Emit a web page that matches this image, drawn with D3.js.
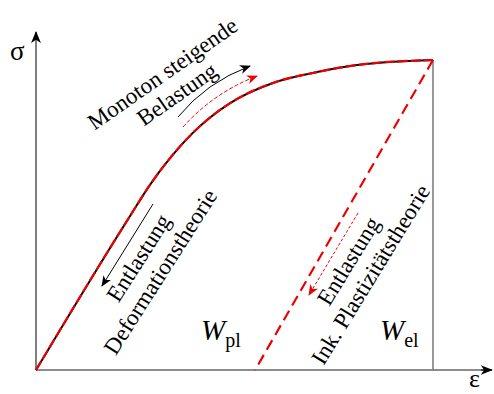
<!DOCTYPE html>
<html>
<head>
<meta charset="utf-8">
<script src="https://cdn.jsdelivr.net/npm/d3@7"></script>
<style>
  body { margin: 0; background: #fff; }
  text { font-family: "Liberation Serif", serif; fill: #000; }
</style>
</head>
<body>
<script>
// Spannungs-Dehnungs-Kurve (normiert auf den Endpunkt)
let strain = [0, 0.237, 0.287, 0.338, 0.395, 0.489, 0.597, 0.708, 0.809, 1];
let stress = [0, 0.497, 0.597, 0.684, 0.765, 0.861, 0.926, 0.961, 0.984, 1];
// Entlastungsgerade (inkrementelle Plastizitätstheorie)
let unloadStrain = [1, 0.552];
let unloadStress = [1, 0];

let width = 494, height = 394;

let svg = d3.select('body').append('svg')
  .attr('width', width)
  .attr('height', height);

let x = d3.scaleLinear().domain([0, 1]).range([36, 433]);
let y = d3.scaleLinear().domain([0, 1]).range([370, 60]);

//---------- Pfeilspitzen -----------
let defs = svg.append('defs');
function marker(id, color, size) {
  defs.append('marker')
    .attr('id', id)
    .attr('viewBox', '-10 -5 12 10')
    .attr('refX', 0).attr('refY', 0)
    .attr('markerUnits', 'userSpaceOnUse')
    .attr('markerWidth', size * 1.2).attr('markerHeight', size)
    .attr('orient', 'auto')
    .append('path')
    .attr('d', 'M-10,-4.5 L1,0 L-10,4.5 L-7,0 Z')
    .attr('fill', color);
}
marker('arrK', '#000', 10);
marker('arrR', '#e00', 10);
marker('axis', '#000', 11);

//---------- Achsen -----------
svg.append('line')
  .attr('x1', x(0)).attr('y1', y(0))
  .attr('x2', x(1.12)).attr('y2', y(0))
  .attr('stroke', '#666').attr('stroke-width', 1.5);
svg.append('line')
  .attr('x1', x(1.12)).attr('y1', y(0))
  .attr('x2', x(1.148)).attr('y2', y(0))
  .attr('stroke', '#000').attr('stroke-width', 1.5)
  .attr('marker-end', 'url(#axis)');
svg.append('line')
  .attr('x1', x(0)).attr('y1', y(0))
  .attr('x2', x(0)).attr('y2', y(1.09))
  .attr('stroke', '#555').attr('stroke-width', 1.5)
  .attr('marker-end', 'url(#axis)');

// senkrechte Linie am Endpunkt
svg.append('line')
  .attr('x1', x(1)).attr('y1', y(0))
  .attr('x2', x(1)).attr('y2', y(1))
  .attr('stroke', '#777').attr('stroke-width', 1.5);

svg.append('text').attr('x', 10).attr('y', 60)
  .style('font-size', '27px').text('σ');
svg.append('text').attr('x', 469).attr('y', 387)
  .style('font-size', '26px').text('ε');

//---------- Kurven -----------
let pts = strain.map((s, i) => [s, stress[i]]);
let line = d3.line()
  .x(d => x(d[0]))
  .y(d => y(d[1]))
  .curve(d3.curveMonotoneX);

svg.append('path').attr('d', line(pts))
  .attr('fill', 'none').attr('stroke', '#000').attr('stroke-width', 2);
svg.append('path').attr('d', line(pts))
  .attr('fill', 'none').attr('stroke', '#e00').attr('stroke-width', 2.2)
  .attr('stroke-dasharray', '10,3');

let unload = unloadStrain.map((s, i) => [s, unloadStress[i]]);
svg.append('path').attr('d', d3.line().x(d => x(d[0])).y(d => y(d[1]))(unload))
  .attr('fill', 'none').attr('stroke', '#e00').attr('stroke-width', 2.2)
  .attr('stroke-dasharray', '11,6');

//---------- Richtungspfeile -----------
svg.append('path').attr('d', 'M178,117 Q206,82.5 250,66')
  .attr('fill', 'none').attr('stroke', '#000').attr('stroke-width', 1)
  .attr('marker-end', 'url(#arrK)');
svg.append('path').attr('d', 'M183,127 Q214,92.5 257,76')
  .attr('fill', 'none').attr('stroke', '#e00').attr('stroke-width', 1)
  .attr('stroke-dasharray', '4,2')
  .attr('marker-end', 'url(#arrR)');
svg.append('path').attr('d', 'M153,204 L102,286')
  .attr('fill', 'none').attr('stroke', '#000').attr('stroke-width', 1)
  .attr('marker-end', 'url(#arrK)');
svg.append('path').attr('d', 'M358,213 L309,295')
  .attr('fill', 'none').attr('stroke', '#e00').attr('stroke-width', 1)
  .attr('stroke-dasharray', '3,2')
  .attr('marker-end', 'url(#arrR)');

//---------- Beschriftung -----------
function label(lines, cx, cy, angle, gap) {
  let g = svg.append('g')
    .attr('transform', `translate(${cx},${cy}) rotate(${angle})`);
  lines.forEach((t, i) => {
    g.append('text')
      .attr('x', t[1]).attr('y', i * gap)
      .attr('text-anchor', 'middle')
      .style('font-size', '23px')
      .text(t[0]);
  });
}
label([['Monoton steigende', 0], ['Belastung', 0]], 167, 80, -35, 25);
label([['Entlastung', 0], ['Deformationstheorie', 0]], 145, 262, -57.5, 26);
label([['Entlastung', 0], ['Ink. Plastizitätstheorie', 0]], 355, 265, -58.5, 26);

function wLabel(px, py, sub) {
  let t = svg.append('text').attr('x', px).attr('y', py)
    .style('font-size', '29px');
  t.append('tspan').style('font-style', 'italic').text('W');
  t.append('tspan').attr('dy', 7).style('font-size', '20px').text(sub);
}
wLabel(201, 340, 'pl');
wLabel(380, 340, 'el');
</script>
</body>
</html>
